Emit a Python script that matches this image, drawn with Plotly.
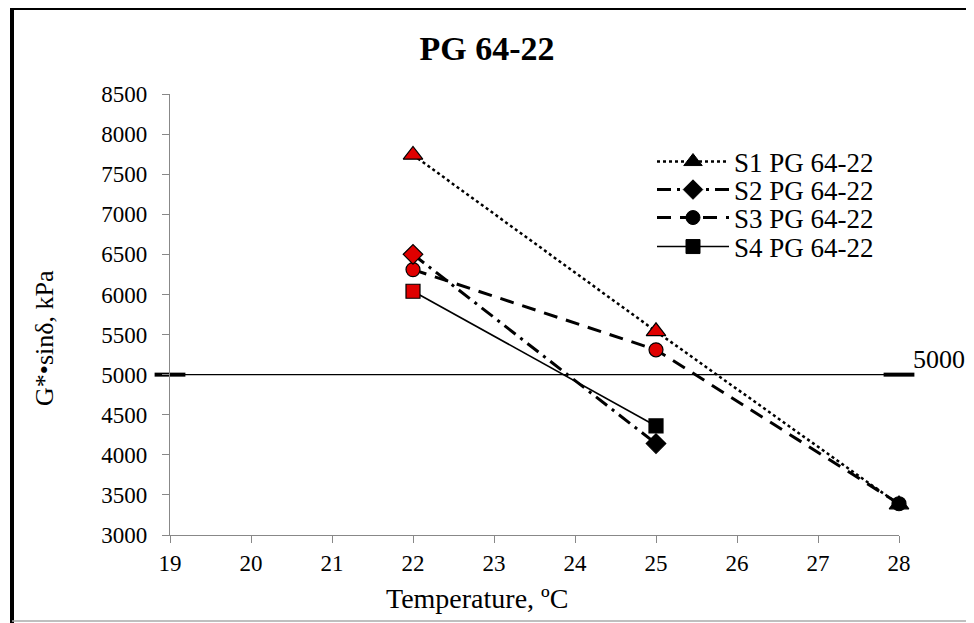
import plotly.graph_objects as go

temps = [22, 25, 28]
s1 = [7740, 5540, 3380]
s2 = [6500, 4140]
s3 = [6310, 5310, 3390]
s4 = [6040, 4360]
s1_colors = ["#e00000", "#e00000", "black"]
s2_colors = ["#e00000", "black"]
s3_colors = ["#e00000", "#e00000", "black"]
s4_colors = ["#e00000", "black"]
ref_x = [19, 28]
ref_y = [5000, 5000]
names = ["S1 PG 64-22", "S2 PG 64-22", "S3 PG 64-22", "S4 PG 64-22"]

font = "Liberation Serif"
OFF = 8  # page body margin offset
W, H = 974 - OFF, 623 - OFF
# plot area in window pixels: x 170..899, y 94..535
L, T = 170 - OFF, 94 - OFF
R, B = W - (899 - OFF), H - (535 - OFF)
pw, ph = W - L - R, H - T - B
def px(xw): return (xw - OFF - L) / pw
def py(yw): return (H - B - (yw - OFF)) / ph

fig = go.Figure()
fig.add_trace(go.Scatter(x=ref_x, y=ref_y, mode="lines+markers", showlegend=False,
                         line=dict(color="black", width=1.3),
                         marker=dict(symbol="line-ew", size=22, line=dict(color="black", width=4)),
                         cliponaxis=False, hoverinfo="skip"))

specs = [
    (temps, s1, s1_colors, "triangle-up", "dot", 2.5, 17),
    (temps[:2], s2, s2_colors, "diamond", "14px,6px,3px,6px", 3, 15),
    (temps, s3, s3_colors, "circle", "14px,9px", 3, 14),
    (temps[:2], s4, s4_colors, "square", "solid", 1.6, 14),
]
for (x, y, cols, sym, dash, w, sz), nm in reversed(list(zip(specs, names))):
    fig.add_trace(go.Scatter(x=x, y=y, mode="lines+markers", name=nm, showlegend=False,
                             line=dict(color="black", width=w, dash=dash),
                             marker=dict(symbol=sym, size=sz, color=cols,
                                         line=dict(color="black", width=1.2)),
                             cliponaxis=False))
legend_ids = ["legend", "legend2", "legend3", "legend4"]
row_centers = [162, 190, 218, 247]
for (x, y, cols, sym, dash, w, sz), nm, lid in zip(specs, names, legend_ids):
    fig.add_trace(go.Scatter(x=[None], y=[None], mode="lines+markers", name=nm, legend=lid,
                             line=dict(color="black", width=w, dash=dash),
                             marker=dict(symbol=sym, size=sz, color="black",
                                         line=dict(color="black", width=1))))

fig.add_annotation(x=28, y=5000, xref="x", yref="y", text="5000", showarrow=False,
                   xanchor="left", yanchor="middle", xshift=12, yshift=15,
                   font=dict(family=font, size=26, color="black"))
fig.add_annotation(x=px(477), y=py(598), xref="paper", yref="paper", text="Temperature, ºC",
                   xanchor="center", yanchor="middle",
                   showarrow=False, font=dict(family=font, size=28, color="black"))
fig.add_annotation(x=px(44), y=py(338), xref="paper", yref="paper", text="G*•sinδ, kPa",
                   xanchor="center", yanchor="middle",
                   textangle=-90, showarrow=False, font=dict(family=font, size=26, color="black"))

LEG_FONT = 27
leg_layout = {}
for lid, yc in zip(legend_ids, row_centers):
    leg_layout[lid] = dict(x=px(652), y=py(yc), xanchor="left", yanchor="middle",
                           bgcolor="rgba(0,0,0,0)",
                           font=dict(family=font, size=LEG_FONT, color="black"),
                           itemwidth=72)

fig.update_layout(
    width=W, height=H,
    margin=dict(l=L, r=R, t=T, b=B),
    paper_bgcolor="white", plot_bgcolor="white",
    title=dict(text="<b>PG 64-22</b>", x=(487 - OFF) / W, xref="container", xanchor="center",
               y=1 - (48 - OFF) / H, yref="container", yanchor="middle",
               font=dict(family=font, size=34, color="black")),
    font=dict(family=font, size=23, color="black"),
    showlegend=True,
    xaxis=dict(range=[19, 28], dtick=1, tick0=19, showgrid=False, zeroline=False,
               showline=True, linecolor="#888", linewidth=1.2, ticks="outside",
               ticklen=7, tickcolor="#888", tickfont=dict(family=font, size=23),
               ticklabelstandoff=0),
    yaxis=dict(range=[3000, 8500], dtick=500, tick0=3000, showgrid=False, zeroline=False,
               showline=True, linecolor="#888", linewidth=1.2, ticks="outside",
               ticklen=7, tickcolor="#888", tickfont=dict(family=font, size=23),
               ticklabelstandoff=10),
    **leg_layout,
)
fig.add_shape(type="line", xref="paper", yref="paper", x0=px(12), x1=px(12), y0=py(6), y1=py(623),
              line=dict(color="black", width=4))
fig.add_shape(type="line", xref="paper", yref="paper", x0=px(10), x1=px(974), y0=py(8), y1=py(8),
              line=dict(color="black", width=4))
fig.add_shape(type="line", xref="paper", yref="paper", x0=px(12), x1=px(974), y0=py(621), y1=py(621),
              line=dict(color="#aaa", width=1.5))
fig.add_shape(type="line", xref="paper", yref="paper", x0=px(969), x1=px(969), y0=py(8), y1=py(623),
              line=dict(color="#ddd", width=1.5))

fig.write_html("out.html")
